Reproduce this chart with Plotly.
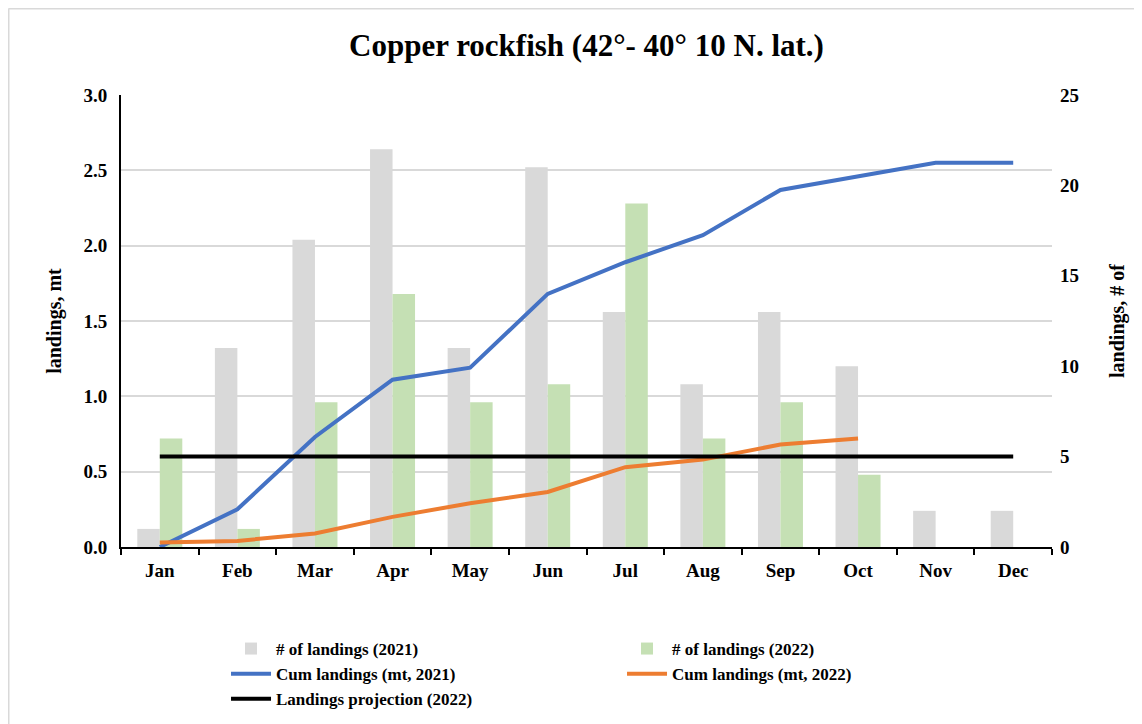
import plotly.graph_objects as go

months = ["Jan", "Feb", "Mar", "Apr", "May", "Jun", "Jul", "Aug", "Sep", "Oct", "Nov", "Dec"]
landings_2021 = [1, 11, 17, 22, 11, 21, 13, 9, 13, 10, 2, 2]
landings_2022 = [6, 1, 8, 14, 8, 9, 19, 6, 8, 4, None, None]
cum_2021 = [0.0, 0.25, 0.73, 1.11, 1.19, 1.68, 1.89, 2.07, 2.37, 2.46, 2.55, 2.55]
cum_2022 = [0.03, 0.04, 0.09, 0.2, 0.29, 0.365, 0.53, 0.58, 0.68, 0.72, None, None]
projection_2022 = [0.6, 0.6, 0.6, 0.6, 0.6, 0.6, 0.6, 0.6, 0.6, 0.6, 0.6, 0.6]

FONT = "Liberation Serif"

fig = go.Figure()
fig.add_trace(go.Bar(x=months, y=landings_2021, name="# of landings (2021)",
                     marker=dict(color="#D9D9D9", line=dict(width=0)), yaxis="y"))
fig.add_trace(go.Bar(x=months, y=landings_2022, name="# of landings (2022)",
                     marker=dict(color="#C5E0B4", line=dict(width=0)), yaxis="y"))
fig.add_trace(go.Scatter(x=months, y=cum_2021, name="Cum landings (mt, 2021)", mode="lines",
                         line=dict(color="#4472C4", width=4), yaxis="y2"))
fig.add_trace(go.Scatter(x=months, y=cum_2022, name="Cum landings (mt, 2022)", mode="lines",
                         line=dict(color="#ED7D31", width=4), yaxis="y2"))
fig.add_trace(go.Scatter(x=months, y=projection_2022, name="Landings projection (2022)", mode="lines",
                         line=dict(color="#000000", width=4), yaxis="y2"))

tickfont = dict(family=FONT, size=19, color="black", weight="bold")
axtitlefont = dict(family=FONT, size=20, color="black", weight="bold")

W, H = 1134, 716
L, R, T, B = 113, 90, 87, 177
PW, PH = W - L - R, H - T - B

fig.update_layout(
    width=W, height=H,
    margin=dict(l=L, r=R, t=T, b=B, autoexpand=False),
    paper_bgcolor="white", plot_bgcolor="white",
    barmode="group", bargap=0.42, bargroupgap=0,
    title=dict(text="Copper rockfish (42°- 40° 10 N. lat.)", x=0.5, xanchor="center", xref="paper",
               y=1 - 37 / H, yanchor="middle",
               font=dict(family=FONT, size=31, color="black", weight="bold")),
    xaxis=dict(showline=True, linecolor="black", linewidth=2, ticks="outside",
               tickson="boundaries", ticklen=6, tickwidth=2, tickcolor="black",
               tickfont=tickfont, showgrid=False, ticklabelstandoff=5),
    yaxis=dict(side="right", range=[0, 25], dtick=5, showgrid=False, zeroline=False,
               showline=False, tickfont=tickfont, ticklabelstandoff=7,
               title=dict(text="landings, # of", font=axtitlefont, standoff=31)),
    yaxis2=dict(overlaying="y", side="left", range=[0, 3], dtick=0.5, tickformat=".1f",
                showgrid=True, gridcolor="#D9D9D9", gridwidth=1.5, zeroline=False,
                showline=True, linecolor="black", linewidth=2, tickfont=tickfont,
                ticklabelstandoff=8,
                title=dict(text="landings, mt", font=axtitlefont, standoff=16)),
    legend=dict(orientation="h", x=0.1128, xanchor="left", yref="container", y=1 - 623 / H,
                yanchor="top", entrywidth=341,
                font=dict(family=FONT, size=17, color="black", weight="bold"),
                tracegroupgap=0, itemwidth=40, traceorder="normal"),
    showlegend=True,
    shapes=[
        dict(type="line", xref="paper", yref="paper", x0=(0.5 - L) / PW, x1=1.2,
             y0=(PH + T - 0.5) / PH, y1=(PH + T - 0.5) / PH,
             line=dict(color="#D9D9D9", width=2)),
        dict(type="line", xref="paper", yref="paper", x0=(0.5 - L) / PW, x1=(0.5 - L) / PW,
             y0=(PH + T - 0.5) / PH, y1=-0.5,
             line=dict(color="#D9D9D9", width=2)),
    ],
)

fig.write_html("out.html")
